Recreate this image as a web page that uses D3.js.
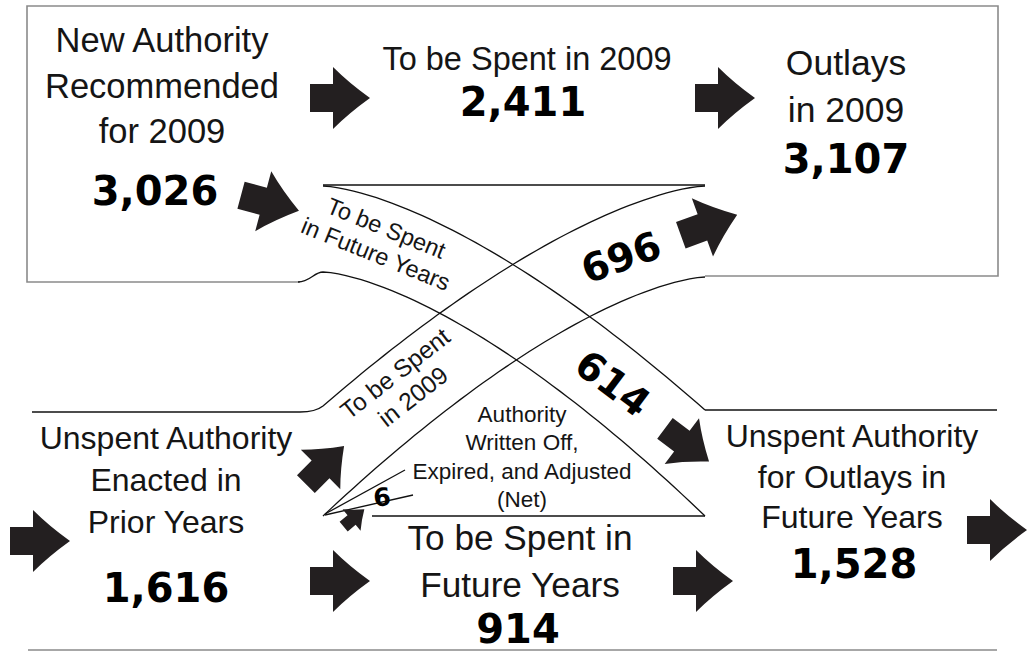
<!DOCTYPE html>
<meta charset="utf-8">
<title>Relationship of Budget Authority to Outlays for 2009</title>
<script src="https://d3js.org/d3.v7.min.js"></script>
<style>
  body { margin: 0; background: #fff; }
  svg { display: block; }
  text { font-family: "Liberation Sans", Arial, sans-serif; fill: #151515; }
  .num { font-family: "DejaVu Sans", sans-serif; font-weight: bold; fill: #000; }
</style>
<body>
<svg class=chart></svg>
<script>

var width = 1028, height = 652;

// data (billions of dollars)
var nodeLabels = [
  ["New Authority", "Recommended", "for 2009"],
  ["To be Spent in 2009"],
  ["Outlays", "in 2009"],
  ["Unspent Authority", "Enacted in", "Prior Years"],
  ["To be Spent in", "Future Years"],
  ["Unspent Authority", "for Outlays in", "Future Years"]
];
var nodeValues = [3026, 2411, 3107, 1616, 914, 1528];
var flowLabels = [
  ["To be Spent", "in Future Years"],
  ["To be Spent", "in 2009"],
  ["Authority", "Written Off,", "Expired, and Adjusted", "(Net)"]
];
var flowValues = [614, 696, 6];

// layout
var nodePos = [
  {x: 162, y: 52, size: 34.5, gap: 45.5, numY: 205, numX: 155},
  {x: 527, y: 70, size: 32.5, gap: 0, numY: 116, numX: 523},
  {x: 846, y: 75, size: 35.5, gap: 47, numY: 173, numX: 846},
  {x: 166, y: 449, size: 32, gap: 42, numY: 602, numX: 166},
  {x: 520, y: 550, size: 35.2, gap: 47, numY: 643, numX: 518},
  {x: 852, y: 447, size: 32, gap: 40.5, numY: 578, numX: 854}
];

var fmt = d3.format(",");
var svg = d3.select(".chart").attr("width", width).attr("height", height);

// crossing section scale (t: 0 -> 1 across the X)
var xc = d3.scaleLinear().domain([0, 1]).range([323, 705]);
var fA = function(t) { return Math.pow(t, 1.5); };
var fB = function(t) { return 1 - Math.pow(1 - t, 1.5); };
var line = d3.line();

function edge(y0, y1, f) {
  return d3.range(0, 1.0001, 0.02).map(function(t) { return [xc(t), y0 + (y1 - y0) * f(t)]; });
}

// boxes (grey)
svg.append("path")
  .attr("d", "M300,282 L27,282 L27,6 L998,6 L998,276 L705,276")
  .attr("fill", "none").attr("stroke", "#8a8a8a").attr("stroke-width", 1.6);
svg.append("line").attr("x1", 28).attr("x2", 997).attr("y1", 650).attr("y2", 650)
  .attr("stroke", "#8a8a8a").attr("stroke-width", 1.6);

// black frame lines
var black = svg.append("g").attr("fill", "none").attr("stroke", "#111").attr("stroke-width", 1.3);
black.append("line").attr("x1", xc(0)).attr("x2", xc(1)).attr("y1", 185).attr("y2", 185).attr("stroke-width", 1.6);
black.append("line").attr("x1", 372).attr("x2", xc(1)).attr("y1", 516).attr("y2", 516).attr("stroke-width", 1.6);
black.append("line").attr("x1", xc(1)).attr("x2", 997).attr("y1", 410).attr("y2", 410).attr("stroke-width", 1.6);
black.append("line").attr("x1", 32).attr("x2", 300).attr("y1", 412).attr("y2", 412).attr("stroke-width", 1.6);

// band A: new authority to be spent in future years (614)
black.append("path").attr("d", line(edge(186, 410, fA)));
black.append("path").attr("d", "M298,282 C310,282 314,272 323,272" + line(edge(272, 516, fA)).replace("M", "L"));
// band B: prior authority to be spent in 2009 (696)
black.append("path").attr("d", "M300,412 C312,412 318,410 323,406" + line(edge(406, 186, fB)).replace("M", "L"));
black.append("path").attr("d", line(edge(516, 277, fB)));
// small wedge for the 6
black.append("line").attr("x1", 325).attr("y1", 514).attr("x2", 405).attr("y2", 470);
black.append("line").attr("x1", 325).attr("y1", 515).attr("x2", 413).attr("y2", 495);

// arrows
var arrows = [
  {x: 340, y: 98, a: 0, s: 1},
  {x: 270, y: 203, a: 15, s: 1},
  {x: 725, y: 98, a: 0, s: 1},
  {x: 709, y: 225, a: -20, s: 1},
  {x: 40, y: 541, a: 0, s: 1},
  {x: 325, y: 465, a: -45, s: 0.9},
  {x: 354, y: 518, a: -40, s: 0.45},
  {x: 340, y: 581, a: 0, s: 1},
  {x: 703, y: 581, a: 0, s: 1},
  {x: 687, y: 445, a: 37, s: 0.92},
  {x: 997, y: 530, a: 0, s: 1}
];
var arrowD = "M-30,-14 L-7,-14 L-7,-31 Q9,-15 30,0 Q9,15 -7,31 L-7,14 L-30,14 Z";
svg.append("g").selectAll("path")
  .data(arrows)
  .enter().append("path")
  .attr("d", arrowD)
  .attr("fill", "#231f20")
  .attr("transform", function(d) { return "translate(" + d.x + "," + d.y + ") rotate(" + d.a + ") scale(" + d.s + ")"; });

// node labels
nodeLabels.forEach(function(lines, i) {
  var p = nodePos[i];
  var g = svg.append("g");
  g.selectAll("text")
    .data(lines)
    .enter().append("text")
    .attr("x", p.x)
    .attr("y", function(d, j) { return p.y + j * p.gap; })
    .attr("text-anchor", "middle")
    .style("font-size", p.size + "px")
    .text(function(d) { return d; });
  g.append("text")
    .attr("class", "num")
    .attr("x", p.numX)
    .attr("y", p.numY)
    .attr("text-anchor", "middle")
    .style("font-size", "40px")
    .text(fmt(nodeValues[i]));
});

// flow labels
var flowPos = [
  {x: 381, y: 241, a: 22, size: 23.5, gap: 28},
  {x: 404, y: 385, a: -38, size: 24.5, gap: 29},
  {x: 522, y: 422, a: 0, size: 22.5, gap: 28.3}
];
flowLabels.forEach(function(lines, i) {
  var p = flowPos[i];
  var n = lines.length;
  var g = svg.append("g").attr("transform", "translate(" + p.x + "," + p.y + ") rotate(" + p.a + ")");
  g.selectAll("text")
    .data(lines)
    .enter().append("text")
    .attr("x", 0)
    .attr("y", function(d, j) { return i == 2 ? j * p.gap : (j - (n - 1) / 2) * p.gap; })
    .attr("dy", i == 2 ? 0 : "0.35em")
    .attr("text-anchor", "middle")
    .style("font-size", p.size + "px")
    .text(function(d) { return d; });
});

// flow values
var flowValPos = [
  {x: 613, y: 383, a: 37, size: 39},
  {x: 621, y: 257, a: -20, size: 39},
  {x: 382, y: 497, a: -6, size: 25}
];
svg.append("g").selectAll("text")
  .data(flowValues)
  .enter().append("text")
  .attr("class", "num")
  .attr("text-anchor", "middle")
  .attr("dy", "0.36em")
  .attr("transform", function(d, i) { var p = flowValPos[i]; return "translate(" + p.x + "," + p.y + ") rotate(" + p.a + ")"; })
  .style("font-size", function(d, i) { return flowValPos[i].size + "px"; })
  .text(function(d) { return fmt(d); });

</script>
</body>
